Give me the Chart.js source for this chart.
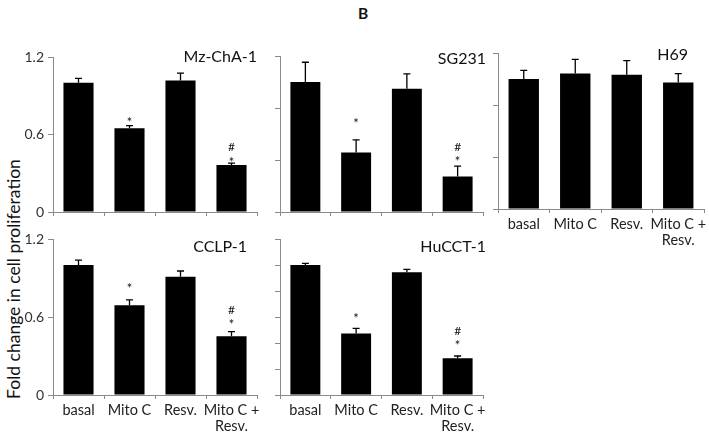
<!DOCTYPE html>
<html><head><meta charset="utf-8">
<script src="https://cdn.jsdelivr.net/npm/chart.js@4/dist/chart.umd.min.js"></script>
<style>
html,body{margin:0;padding:0;background:#fff;width:709px;height:436px;overflow:hidden;position:relative;font-family:Lato,"Noto Sans",sans-serif;}
canvas{position:absolute;}
#panelLetter{position:absolute;left:343px;top:3px;width:40px;text-align:center;font-weight:bold;font-size:15.5px;line-height:20px;color:#111;}
#yTitle{position:absolute;left:-136px;top:268px;width:300px;height:22px;line-height:22px;text-align:center;font-size:17.5px;color:#111;transform:rotate(-90deg);white-space:nowrap;}
</style></head><body>
<div id="panelLetter">B</div>
<div id="yTitle">Fold change in cell proliferation</div>
<script>
// ---------- data ----------
const categories = ['basal', 'Mito C', 'Resv.', ['Mito C +', 'Resv.']];
const cellLines = ['Mz-ChA-1', 'SG231', 'H69', 'CCLP-1', 'HuCCT-1'];

const mzchaValues  = [1.00, 0.648, 1.018, 0.363];
const mzchaErrors  = [0.035, 0.020, 0.057, 0.015];
const mzchaMarks   = ['', '*', '', '#*'];

const sg231Values  = [1.00, 0.458, 0.949, 0.273];
const sg231Errors  = [0.152, 0.097, 0.113, 0.080];
const sg231Marks   = ['', '*', '', '#*'];

const h69Values    = [1.00, 1.043, 1.033, 0.974];
const h69Errors    = [0.066, 0.108, 0.108, 0.067];
const h69Marks     = ['', '', '', ''];

const cclpValues   = [1.00, 0.690, 0.910, 0.451];
const cclpErrors   = [0.038, 0.041, 0.044, 0.036];
const cclpMarks    = ['', '*', '', '#*'];

const hucctValues  = [1.00, 0.474, 0.944, 0.282];
const hucctErrors  = [0.013, 0.039, 0.023, 0.018];
const hucctMarks   = ['', '*', '', '#*'];

const yMin = 0, yMax = 1.2;
const yTickLabels = ['0', '0.6', '1.2'];

// ---------- layout (pixel boxes of plot areas, styles) ----------
const panels = [
  {name: cellLines[0], values: mzchaValues, errors: mzchaErrors, marks: mzchaMarks,
   box: {l: 53, t: 57, r: 257, b: 212}, yStep: 0.6, yLabels: true, xLabels: false,
   titleDx: 0, titleDy: 5, starGap: [0, 6, 0, 3.7], hashGap: [0, 0, 0, 16]},
  {name: cellLines[1], values: sg231Values, errors: sg231Errors, marks: sg231Marks,
   box: {l: 280, t: 56, r: 483, b: 212}, yStep: 0.4, yLabels: false, xLabels: false,
   titleDx: 3, titleDy: 8, starGap: [0, 19, 0, 8], hashGap: [0, 0, 0, 19.6]},
  {name: cellLines[2], values: h69Values, errors: h69Errors, marks: h69Marks,
   box: {l: 498, t: 53, r: 704, b: 209}, yStep: 0.4, yLabels: false, xLabels: true,
   titleDx: -16, titleDy: 7, starGap: [0, 0, 0, 0], hashGap: [0, 0, 0, 0]},
  {name: cellLines[3], values: cclpValues, errors: cclpErrors, marks: cclpMarks,
   box: {l: 53, t: 239, r: 257, b: 395}, yStep: 0.6, yLabels: true, xLabels: true,
   titleDx: -10, titleDy: 13, starGap: [0, 14, 0, 10], hashGap: [0, 0, 0, 21.7]},
  {name: cellLines[4], values: hucctValues, errors: hucctErrors, marks: hucctMarks,
   box: {l: 280, t: 239, r: 483, b: 395}, yStep: 0.2, yLabels: false, xLabels: true,
   titleDx: 3, titleDy: 13, starGap: [0, 13.3, 0, 13.7], hashGap: [0, 0, 0, 25]}
];

const AXIS_W = 45, PAD_T = 16, PAD_R = 12, XAXIS_H = 45;
const axisColor = '#8a8a8a';
const FONT = 'Lato, "Noto Sans", sans-serif';

const decorPlugin = {
  id: 'decor',
  afterDatasetsDraw(chart, args, o) {
    const ctx = chart.ctx;
    const ys = chart.scales.y;
    const meta = chart.getDatasetMeta(0);
    ctx.save();
    ctx.strokeStyle = '#000';
    ctx.lineWidth = 1.3;
    meta.data.forEach((bar, i) => {
      const yTop = ys.getPixelForValue(o.values[i] + o.errors[i]);
      ctx.beginPath();
      ctx.moveTo(bar.x, bar.y);
      ctx.lineTo(bar.x, yTop);
      ctx.moveTo(bar.x - 3.5, yTop);
      ctx.lineTo(bar.x + 3.5, yTop);
      ctx.stroke();
      const m = o.marks[i];
      ctx.fillStyle = '#111';
      ctx.textAlign = 'center';
      ctx.textBaseline = 'alphabetic';
      const drawCentered = (s, cy, size) => {
        ctx.font = size + 'px ' + FONT;
        const mt = ctx.measureText(s);
        const off = (mt.actualBoundingBoxAscent - mt.actualBoundingBoxDescent) / 2;
        ctx.fillText(s, bar.x, cy + off);
      };
      if (m.includes('*')) drawCentered('*', yTop - o.starGap[i], 13);
      if (m.includes('#')) drawCentered('#', yTop - o.hashGap[i], 12);
    });
    // cell line title
    ctx.fillStyle = '#111';
    ctx.font = '16px ' + FONT;
    ctx.textAlign = 'right';
    ctx.textBaseline = 'alphabetic';
    ctx.fillText(o.title, chart.chartArea.right + o.titleDx, chart.chartArea.top + o.titleDy);
    ctx.restore();
  }
};

panels.forEach(p => {
  const c = document.createElement('canvas');
  const w = (p.box.r - p.box.l) + AXIS_W + PAD_R;
  const h = (p.box.b - p.box.t) + PAD_T + XAXIS_H;
  c.style.left = (p.box.l - AXIS_W) + 'px';
  c.style.top = (p.box.t - PAD_T) + 'px';
  c.style.width = w + 'px';
  c.style.height = h + 'px';
  c.width = w; c.height = h;
  document.body.appendChild(c);
  new Chart(c, {
    type: 'bar',
    data: {
      labels: categories,
      datasets: [{data: p.values, backgroundColor: '#000', borderWidth: 0,
                  barPercentage: 0.59, categoryPercentage: 1.0}]
    },
    options: {
      responsive: false, animation: false, devicePixelRatio: 1,
      layout: {padding: {top: PAD_T, right: PAD_R, left: 0, bottom: 0}},
      plugins: {
        legend: {display: false}, tooltip: {enabled: false}, title: {display: false},
        decor: {values: p.values, errors: p.errors, marks: p.marks, title: p.name,
                titleDx: p.titleDx, titleDy: p.titleDy, starGap: p.starGap, hashGap: p.hashGap}
      },
      scales: {
        x: {
          grid: {drawOnChartArea: false, drawTicks: true, tickLength: 4, color: axisColor, offset: true},
          border: {color: axisColor, width: 1},
          ticks: {
            display: true, color: '#222', padding: 3, maxRotation: 0, autoSkip: false,
            font: {family: FONT, size: 14.5, lineHeight: 1.12},
            callback: function (v, i) { return p.xLabels ? categories[i] : ''; }
          },
          afterFit: s => { s.height = XAXIS_H; }
        },
        y: {
          min: yMin, max: yMax,
          grid: {drawOnChartArea: false, drawTicks: true, tickLength: 5, color: axisColor},
          border: {color: axisColor, width: 1},
          ticks: {
            stepSize: p.yStep, color: '#333', padding: 4,
            font: {family: FONT, size: 14},
            callback: function (v) {
              if (!p.yLabels) return '';
              const s = String(Math.round(v * 10) / 10);
              return yTickLabels.includes(s) ? s : '';
            }
          },
          afterFit: s => { s.width = AXIS_W; }
        }
      }
    },
    plugins: [decorPlugin]
  });
});
</script>
</body></html>
